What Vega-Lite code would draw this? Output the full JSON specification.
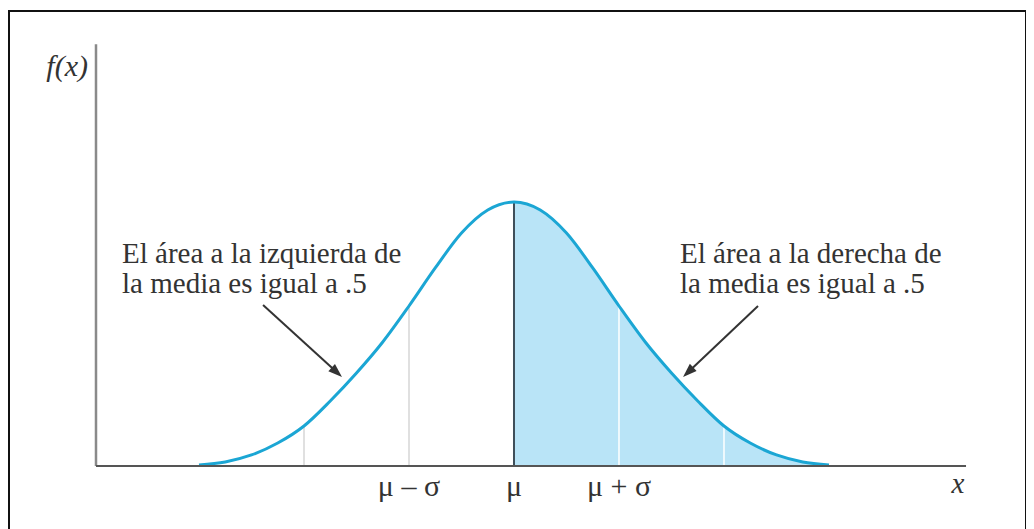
{
  "$schema": "https://vega.github.io/schema/vega-lite/v6.json",
  "width": 1017,
  "height": 525,
  "autosize": {"type": "none"},
  "padding": {"left": 9, "top": 11, "right": 0, "bottom": 0},
  "background": "white",
  "config": {"view": {"stroke": "#111111", "strokeWidth": 2}, "font": "Liberation Serif"},
  "datasets": {
    "curve": [
      {"z": -3, "v": 0.0015}, {"z": -2.75, "v": 0.0061}, {"z": -2.5, "v": 0.0167},
      {"z": -2.25, "v": 0.0348}, {"z": -2, "v": 0.0606}, {"z": -1.75, "v": 0.0985},
      {"z": -1.5, "v": 0.1409}, {"z": -1.25, "v": 0.1879}, {"z": -1, "v": 0.2424},
      {"z": -0.75, "v": 0.3}, {"z": -0.5, "v": 0.353}, {"z": -0.25, "v": 0.3879},
      {"z": 0, "v": 0.4},
      {"z": 0.25, "v": 0.3879}, {"z": 0.5, "v": 0.353}, {"z": 0.75, "v": 0.3},
      {"z": 1, "v": 0.2424}, {"z": 1.25, "v": 0.1879}, {"z": 1.5, "v": 0.1409},
      {"z": 1.75, "v": 0.0985}, {"z": 2, "v": 0.0606}, {"z": 2.25, "v": 0.0348},
      {"z": 2.5, "v": 0.0167}, {"z": 2.75, "v": 0.0061}, {"z": 3, "v": 0.0015}
    ],
    "refs": [
      {"z": -2, "v": 0.0606}, {"z": -1, "v": 0.2424}, {"z": 0, "v": 0.4},
      {"z": 1, "v": 0.2424}, {"z": 2, "v": 0.0606}
    ]
  },
  "encoding": {
    "x": {"field": "z", "type": "quantitative", "scale": {"domain": [-4.8095, 4.8762], "nice": false, "zero": false}, "axis": null},
    "y": {"field": "v", "type": "quantitative", "scale": {"domain": [-0.1061, 0.6894], "nice": false, "zero": false}, "axis": null}
  },
  "layer": [
    {
      "data": {"name": "curve"},
      "transform": [{"filter": "datum.z >= 0"}],
      "mark": {"type": "area", "color": "#b9e4f7", "interpolate": "monotone"},
      "encoding": {"y2": {"datum": 0}}
    },
    {
      "data": {"name": "refs"},
      "transform": [{"filter": "datum.z < 0"}],
      "mark": {"type": "rule", "color": "#d6d6d6", "strokeWidth": 1.5},
      "encoding": {"y2": {"datum": 0}}
    },
    {
      "data": {"name": "refs"},
      "transform": [{"filter": "datum.z > 0"}],
      "mark": {"type": "rule", "color": "#ffffff", "strokeWidth": 1.5},
      "encoding": {"y2": {"datum": 0}}
    },
    {
      "data": {"name": "refs"},
      "transform": [{"filter": "datum.z == 0"}],
      "mark": {"type": "rule", "color": "#3f4f5a", "strokeWidth": 2},
      "encoding": {"y2": {"datum": 0}}
    },
    {
      "data": {"name": "curve"},
      "mark": {"type": "line", "color": "#1ba6d4", "strokeWidth": 3, "interpolate": "monotone"}
    },
    {
      "data": {"values": [{"z": -3.981, "v": 0, "z2": -3.981, "v2": 0.639}]},
      "mark": {"type": "rule", "color": "#8a8a8a", "strokeWidth": 2.5},
      "encoding": {"x2": {"field": "z2"}, "y2": {"field": "v2"}}
    },
    {
      "data": {"values": [{"z": -3.981, "v": 0, "z2": 4.305, "v2": 0}]},
      "mark": {"type": "rule", "color": "#555555", "strokeWidth": 2},
      "encoding": {"x2": {"field": "z2"}, "y2": {"field": "v2"}}
    },
    {
      "data": {"values": [
        {"z": -3.733, "v": 0.308, "label": "El área a la izquierda de\nla media es igual a .5"},
        {"z": 1.581, "v": 0.308, "label": "El área a la derecha de\nla media es igual a .5"}
      ]},
      "mark": {"type": "text", "align": "left", "baseline": "alphabetic", "font": "Liberation Serif", "fontSize": 29, "lineHeight": 30, "lineBreak": "\n", "color": "#333333"},
      "encoding": {"text": {"field": "label"}}
    },
    {
      "data": {"values": [
        {"z": -1, "v": -0.045, "label": "μ – σ"},
        {"z": 0, "v": -0.045, "label": "μ"},
        {"z": 1, "v": -0.045, "label": "μ + σ"}
      ]},
      "mark": {"type": "text", "align": "center", "baseline": "alphabetic", "font": "Liberation Serif", "fontSize": 30, "color": "#333333"},
      "encoding": {"text": {"field": "label"}}
    },
    {
      "data": {"values": [{"z": -4.057, "v": 0.591, "label": "f(x)"}]},
      "mark": {"type": "text", "align": "right", "baseline": "alphabetic", "font": "Liberation Serif", "fontStyle": "italic", "fontSize": 30, "color": "#333333"},
      "encoding": {"text": {"field": "label"}}
    },
    {
      "data": {"values": [{"z": 4.229, "v": -0.041, "label": "x"}]},
      "mark": {"type": "text", "align": "center", "baseline": "alphabetic", "font": "Liberation Serif", "fontStyle": "italic", "fontSize": 29, "color": "#333333"},
      "encoding": {"text": {"field": "label"}}
    },
    {
      "data": {"values": [
        {"z": -2.39, "v": 0.2439, "z2": -1.695, "v2": 0.1432},
        {"z": 2.324, "v": 0.2424, "z2": 1.665, "v2": 0.1432}
      ]},
      "mark": {"type": "rule", "color": "#333333", "strokeWidth": 2},
      "encoding": {"x2": {"field": "z2"}, "y2": {"field": "v2"}}
    },
    {
      "data": {"values": [{"z": -1.638, "v": 0.1348}]},
      "mark": {"type": "point", "shape": "M0,0L-2,-0.7L-2,0.7Z", "filled": true, "color": "#333333", "opacity": 1, "size": 196, "angle": 42.3, "strokeWidth": 0}
    },
    {
      "data": {"values": [{"z": 1.61, "v": 0.1348}]},
      "mark": {"type": "point", "shape": "M0,0L-2,-0.7L-2,0.7Z", "filled": true, "color": "#333333", "opacity": 1, "size": 196, "angle": 136.6, "strokeWidth": 0}
    }
  ]
}
